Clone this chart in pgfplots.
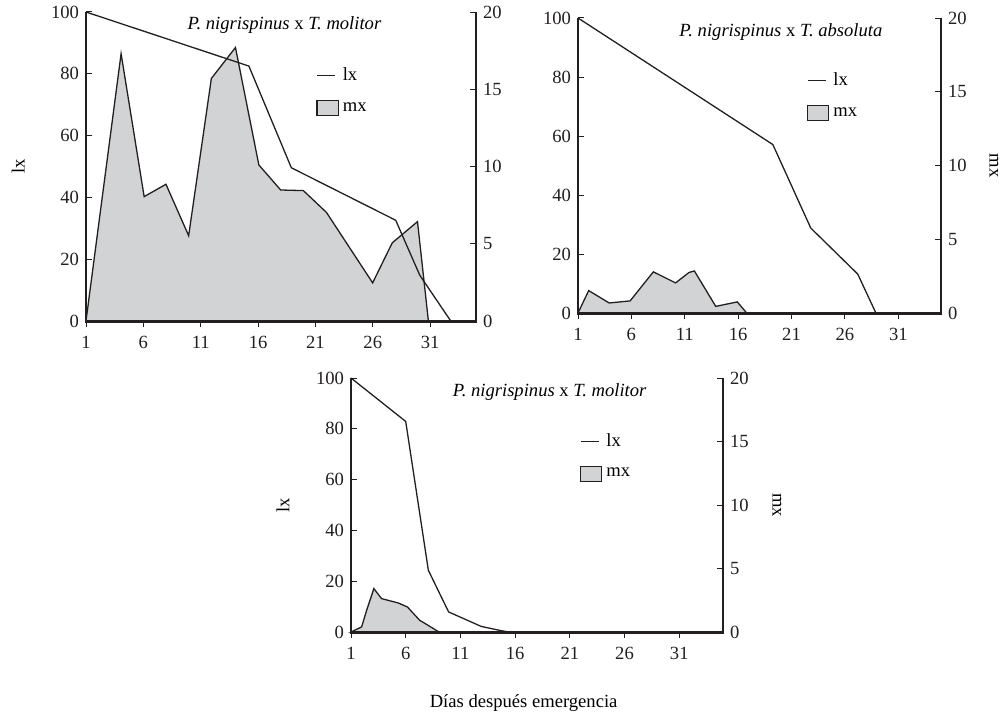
\documentclass[border=0pt]{standalone}
\usepackage{fontspec}
\setmainfont{Liberation Serif}
\usepackage{pgfplots}
\pgfplotsset{compat=1.18}
\definecolor{mxgray}{RGB}{209,211,212}
\definecolor{lc}{RGB}{35,31,32}
\pgfplotsset{
  base/.style={
    scale only axis, anchor=south west,
    xmin=1, xmax=35,
    font=\fontsize{9.3}{11}\selectfont,
    /pgf/number format/assume math mode=true,
    tick style={line width=0.5pt, color=lc},
    major tick length=3pt,
    ticklabel style={color=lc},
    xticklabel style={yshift=-1pt},
    axis on top,
    clip=false,
  },
  thickaxis/.style={
    axis line style={-, color=lc},
    every outer x axis line/.append style={-},
    every outer y axis line/.append style={-},
  },
  mxaxis/.style={base,
    ymin=0, ymax=20,
    axis x line=bottom, axis y line=right,
    thickaxis,
    xtick={1,6,...,31}, ytick={0,5,...,20},
    xtick align=outside, ytick align=inside,
  },
  lxaxis/.style={base,
    ymin=0, ymax=100,
    axis x line=none, axis y line=left,
    thickaxis,
    ytick={0,20,...,100}, ytick align=inside,
    legend cell align=left,
    legend style={draw=none, fill=none, anchor=north west, row sep=5.5pt,
      font=\fontsize{9.3}{11}\selectfont, inner sep=0pt},
  },
  lxline/.style={line width=0.65pt, color=lc},
  mxfill/.style={fill=mxgray, draw=lc, line width=0.65pt},
  lxleg/.style={legend image code/.code={\draw[lc, line width=0.65pt] (0pt,0pt) -- (9pt,0pt);}},
  mxleg/.style={legend image code/.code={\draw[fill=mxgray, draw=lc, line width=0.65pt] (0pt,-3.75pt) rectangle (10.5pt,3.75pt);}},
}
\newcommand{\ttl}[1]{\textit{P. nigrispinus} x \textit{#1}}
\newcommand{\mxframe}{%
  \fill[lc] ([xshift=-0.7pt,yshift=-0.75pt]rel axis cs:0,0) rectangle ([xshift=0.7pt,yshift=0.75pt]rel axis cs:1,0);
  \fill[lc] ([xshift=-0.7pt]rel axis cs:1,0) rectangle ([xshift=0.7pt]rel axis cs:1,1);}
\newcommand{\lxframe}{%
  \fill[lc] ([xshift=-0.7pt]rel axis cs:0,0) rectangle ([xshift=0.7pt]rel axis cs:0,1);}
\begin{document}
\begin{tikzpicture}
\useasboundingbox (0,0) rectangle (502pt,359.5pt);
% ---------- Panel 1 ----------
\begin{axis}[mxaxis, at={(43pt,199pt)}, width=195pt, height=154.5pt]
\addplot[mxfill] coordinates {(1,0) (4.06,17.3) (6.07,8.05) (7.97,8.85) (9.95,5.52) (11.93,15.7) (14.03,17.7) (16.07,10.1) (17.97,8.48) (19.95,8.44) (21.96,7.03) (25.99,2.47) (27.7,5.06) (29.9,6.43) (30.85,0)} \closedcycle;
\end{axis}
\begin{axis}[lxaxis, at={(43pt,199pt)}, width=195pt, height=154.5pt,
  ylabel={lx},
  every axis y label/.style={at={(axis description cs:-0.174,0.5)}, rotate=90, anchor=center},
  legend style={at={(axis description cs:0.59,0.835)}}]
\node at (axis description cs:0.509,0.958) {\ttl{T. molitor}};
\addplot[lxline, lxleg] coordinates {(1,100) (15.2,82.5) (18.9,49.6) (28,32.6) (30.1,14.8) (32.8,0)};
\addlegendentry{lx}
\addlegendimage{mxleg}
\addlegendentry{mx}
\mxframe
\lxframe
\end{axis}
% ---------- Panel 2 ----------
\begin{axis}[mxaxis, at={(289pt,203pt)}, width=181.5pt, height=147.5pt,
  ylabel={mx},
  every axis y label/.style={at={(axis description cs:1.146,0.5)}, rotate=-90, anchor=center, inner sep=0pt}]
\addplot[mxfill] coordinates {(1,0) (2,1.52) (3.92,0.68) (5.88,0.82) (8.06,2.79) (10.14,2.04) (11.4,2.75) (11.9,2.85) (13.9,0.45) (15.92,0.75) (16.8,0)} \closedcycle;
\end{axis}
\begin{axis}[lxaxis, at={(289pt,203pt)}, width=181.5pt, height=147.5pt,
  legend style={at={(axis description cs:0.63,0.83)}}]
\node at (axis description cs:0.559,0.953) {\ttl{T. absoluta}};
\addplot[lxline, lxleg] coordinates {(1,100) (19.25,57.1) (22.8,28.8) (27.2,13.2) (28.9,0) (35,0)};
\addlegendentry{lx}
\addlegendimage{mxleg}
\addlegendentry{mx}
\mxframe
\lxframe
\end{axis}
% ---------- Panel 3 ----------
\begin{axis}[mxaxis, at={(175.5pt,43.5pt)}, width=186pt, height=127pt,
  ylabel={mx},
  every axis y label/.style={at={(axis description cs:1.145,0.5)}, rotate=-90, anchor=center},
  xlabel={Días después emergencia},
  every axis x label/.style={at={(axis description cs:0.464,-0.28)}, anchor=center}]
\addplot[mxfill] coordinates {(1,0) (1.97,0.4) (2.43,1.71) (3.09,3.42) (3.79,2.63) (5.31,2.29) (6.16,1.97) (7.28,0.92) (7.64,0.74) (9.04,0)} \closedcycle;
\end{axis}
\begin{axis}[lxaxis, at={(175.5pt,43.5pt)}, width=186pt, height=127pt,
  ylabel={lx},
  every axis y label/.style={at={(axis description cs:-0.183,0.5)}, rotate=90, anchor=center},
  legend style={at={(axis description cs:0.615,0.8)}}]
\node at (axis description cs:0.534,0.946) {\ttl{T. molitor}};
\addplot[lxline, lxleg] coordinates {(1,100) (6,82.9) (8.07,24.3) (9.92,7.9) (12.9,2.2) (14.86,0.4) (15.5,0) (35,0)};
\addlegendentry{lx}
\addlegendimage{mxleg}
\addlegendentry{mx}
\mxframe
\lxframe
\end{axis}
\end{tikzpicture}
\end{document}
